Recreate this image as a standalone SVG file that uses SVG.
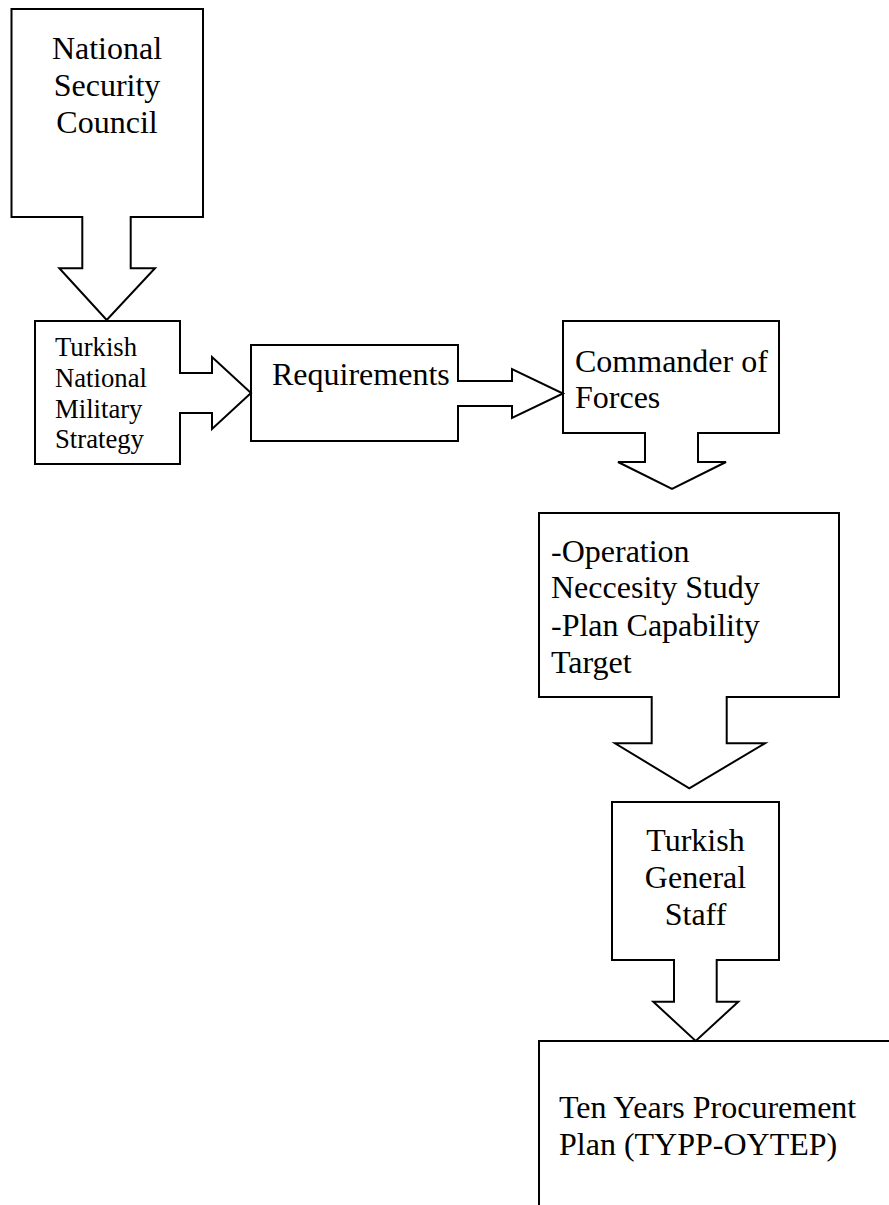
<svg xmlns="http://www.w3.org/2000/svg" width="889" height="1205" viewBox="0 0 889 1205">
  <style>
    .box { fill: #ffffff; stroke: #000000; stroke-width: 2; }
    .arr { fill: #ffffff; stroke: #000000; stroke-width: 2; stroke-linejoin: miter; }
    .t { font-family: "Liberation Serif", "Times New Roman", serif; fill: #000000; }
    .big { font-size: 32px; }
    .small { font-size: 26.7px; }
    .mid { text-anchor: middle; }
  </style>
  <rect width="889" height="1205" fill="#ffffff"/>

  <g id="nodes">
    <g id="national-security-council">
      <rect class="box" x="11.5" y="9" width="191.5" height="208"/>
      <text class="t big mid" x="107" y="59">National</text>
      <text class="t big mid" x="107" y="96">Security</text>
      <text class="t big mid" x="107" y="133">Council</text>
    </g>
    <g id="turkish-national-military-strategy">
      <rect class="box" x="35" y="321" width="145" height="143"/>
      <text class="t small" x="55" y="356">Turkish</text>
      <text class="t small" x="55" y="387">National</text>
      <text class="t small" x="55" y="418">Military</text>
      <text class="t small" x="55" y="448">Strategy</text>
    </g>
    <g id="requirements">
      <rect class="box" x="251" y="345" width="207" height="96"/>
      <text class="t big" x="272" y="385">Requirements</text>
    </g>
    <g id="commander-of-forces">
      <rect class="box" x="563" y="321" width="216" height="112"/>
      <text class="t big" x="575" y="371.5">Commander of</text>
      <text class="t big" x="575" y="408.3">Forces</text>
    </g>
    <g id="operation-necessity">
      <rect class="box" x="539" y="513" width="300" height="184"/>
      <text class="t big" x="551" y="561.5">-Operation</text>
      <text class="t big" x="551" y="598.3">Neccesity Study</text>
      <text class="t big" x="551" y="635.5">-Plan Capability</text>
      <text class="t big" x="551" y="672.5">Target</text>
    </g>
    <g id="turkish-general-staff">
      <rect class="box" x="612" y="802" width="167" height="158"/>
      <text class="t big mid" x="695.5" y="851">Turkish</text>
      <text class="t big mid" x="695.5" y="888">General</text>
      <text class="t big mid" x="695.5" y="925">Staff</text>
    </g>
    <g id="ten-years-procurement-plan">
      <rect class="box" x="539" y="1041" width="380" height="200"/>
      <text class="t big" x="559" y="1117.5">Ten Years Procurement</text>
      <text class="t big" x="559" y="1154.5">Plan (TYPP-OYTEP)</text>
    </g>
  </g>

  <g id="connectors">
    <path class="arr" d="M82.3,216 V268.3 H59.3 L106.7,320 L155,268.3 H130.7 V216"/>
    <path class="arr" d="M179,373 H212 V357 L251,393 L212,429 V413 H179"/>
    <path class="arr" d="M457,381 H512 V369 L563,393.5 L512,418 V406 H457"/>
    <path class="arr" d="M645,432 V462 H618 L672,489 L726,462 H698 V432"/>
    <path class="arr" d="M651.7,696 V743.3 H615 L689.3,788.3 L765,743.3 H726.7 V696"/>
    <path class="arr" d="M674,959 V1001.7 H653.3 L695.7,1041 L738.3,1001.7 H716.7 V959"/>
  </g>
</svg>
